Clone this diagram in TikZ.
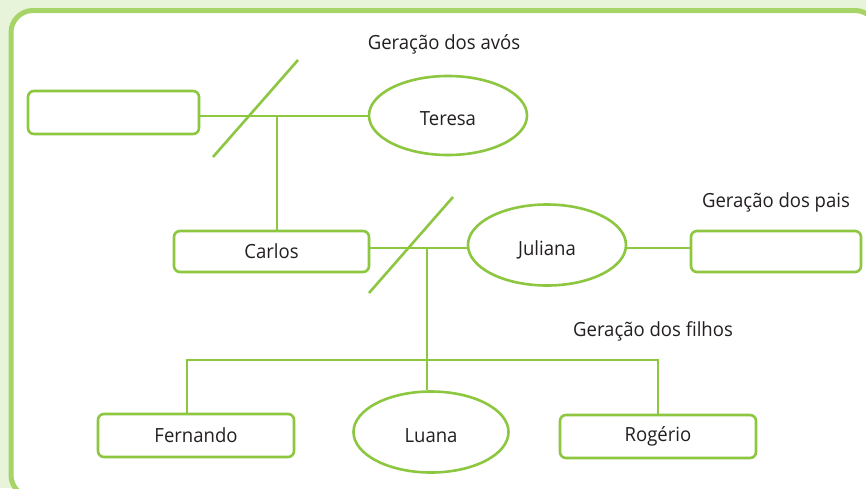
\documentclass[tikz,border=0pt]{standalone}
\usepackage{fontspec}
\setmainfont{Open Sans}[FakeStretch=0.95]
\usepackage{tikz}
\usetikzlibrary{shapes.geometric}
\definecolor{verde}{RGB}{141,198,63}
\definecolor{moldura}{RGB}{166,212,103}
\definecolor{fundo}{RGB}{232,244,218}
\definecolor{texto}{RGB}{35,31,32}

\begin{document}
\begin{tikzpicture}[x=1pt,y=-1pt,line width=2.6pt,
        every node/.style={text=texto,font=\fontsize{19.5}{23}\selectfont,inner sep=0pt},
        caixa/.style={draw=verde,rounded corners=6pt,minimum height=43pt},
        oval/.style={draw=verde,ellipse,minimum width=158pt,minimum height=79pt,text height=20pt,text depth=0pt},
        linha/.style={draw=verde}]
            \useasboundingbox[fill=fundo] (0,0) rectangle (866,488);
            \draw[moldura,fill=white,line width=5pt,rounded corners=22pt] (11,10.5) rectangle (877,497);

            % avos
            \node[caixa,minimum width=171pt] (avo) at (113.5,112.5) {};
            \node[oval] (teresa) at (448,115.5) {Teresa};
            % pais
            \node[caixa,minimum width=195pt,minimum height=41pt] (carlos) at (271.5,251.5) {Carlos};
            \node[oval,minimum height=81pt] (juliana) at (547,245) {Juliana};
            \node[caixa,minimum width=170pt,minimum height=41pt] (conjuge) at (776,251.5) {};
            % filhos
            \node[caixa,minimum width=196pt] (fernando) at (196,435.5) {Fernando};
            \node[oval,minimum width=155pt,minimum height=81pt] (luana) at (431,432) {Luana};
            \node[caixa,minimum width=196pt] (rogerio) at (658,436.5) {Rog\'erio};

            \node (gavos) at (444,44) {Geração dos avós};
            \node (gpais) at (776,202) {Geração dos pais};
            \node (gfilhos) at (653,331) {Geração dos filhos};

            \coordinate (uniao1) at (277,116);
            \coordinate (uniao2) at (427,248);
            \coordinate (ramoF) at (187,360);
            \coordinate (ramoR) at (658,360);
            \coordinate (corte1a) at (213,157);
            \coordinate (corte1b) at (298,60);
            \coordinate (corte2a) at (369,293);
            \coordinate (corte2b) at (453,197);

            \draw[linha] (uniao1 -| avo.east) -- (uniao1 -| teresa.west);
            \draw[linha] (corte1a) -- (corte1b);
            \draw[linha] (uniao1) -- (uniao1 |- carlos.north);
            \draw[linha] (uniao2 -| carlos.east) -- (uniao2 -| juliana.west);
            \draw[linha] (corte2a) -- (corte2b);
            \draw[linha] (uniao2 -| juliana.east) -- (uniao2 -| conjuge.west);
            \draw[linha] (uniao2) -- (uniao2 |- luana.north);
            \draw[linha] (ramoF |- fernando.north) -- (ramoF) -- (ramoR) -- (ramoR |- rogerio.north);
        \end{tikzpicture}
\end{document}
